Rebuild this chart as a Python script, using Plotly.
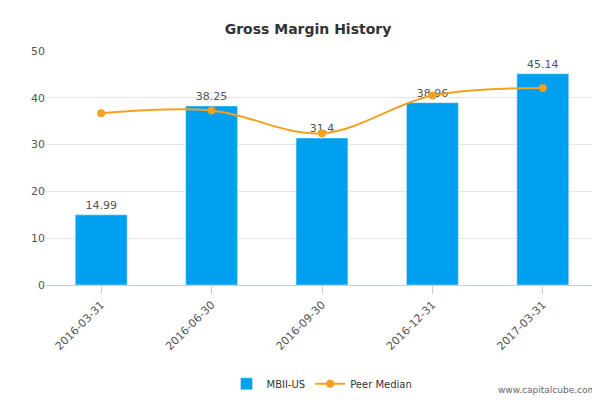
import plotly.graph_objects as go

dates = ["2016-03-31", "2016-06-30", "2016-09-30", "2016-12-31", "2017-03-31"]
mbii = [14.99, 38.25, 31.4, 38.96, 45.14]
peer = [36.7, 37.3, 32.4, 40.5, 42.1]

fig = go.Figure()
fig.add_trace(go.Bar(x=dates, y=mbii, name="MBII-US", marker_color="#00a0f0",
                     width=0.47, text=[str(v) for v in mbii], textposition="outside",
                     textfont=dict(size=11, color="#555"), cliponaxis=False))
fig.add_trace(go.Scatter(x=dates, y=peer, name="Peer Median", mode="lines+markers",
                         line=dict(color="#f5a01e", width=2, shape="spline"),
                         marker=dict(size=8, color="#f5a01e")))

fig.update_layout(
    width=600, height=400, plot_bgcolor="white", paper_bgcolor="white",
    title=dict(text="<b>Gross Margin History</b>", x=0.5, y=0.96,
               font=dict(size=14, color="#333", family="DejaVu Sans")),
    font=dict(family="DejaVu Sans", size=11, color="#555"),
    margin=dict(l=38, r=10, t=43, b=114),
    bargap=0.53,
    legend=dict(orientation="h", x=0.5, xanchor="center", y=-0.36, yanchor="top",
                font=dict(size=10, color="#333")),
    xaxis=dict(type="category", tickangle=-45, showline=True, linecolor="#c0d0e0",
               ticks="outside", tickcolor="#c0d0e0", ticklen=8),
    yaxis=dict(range=[0, 50], dtick=10, showgrid=True, gridcolor="#e6e6e6",
               zeroline=False),
    annotations=[dict(text="www.capitalcube.com", xref="paper", yref="paper",
                      x=1.0, y=-0.42, xanchor="right", yanchor="top",
                      showarrow=False, font=dict(size=9, color="#666"))],
)
fig.write_html("out.html")
